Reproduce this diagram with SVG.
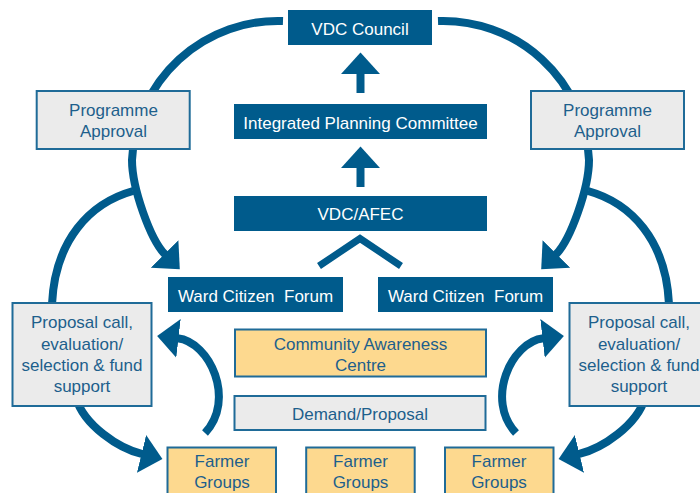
<svg xmlns="http://www.w3.org/2000/svg" width="700" height="493" viewBox="0 0 700 493">
  <style>
    text { font-family: "Liberation Sans", Arial, Helvetica, sans-serif; font-size: 17px; text-anchor: middle; }
    .dark { fill: #005b8c; }
    .grey { fill: #ebebeb; stroke: #1f6b98; stroke-width: 2; }
    .amber { fill: #fdd98f; stroke: #1f6b98; stroke-width: 2; }
    .tw { fill: #ffffff; }
    .tb { fill: #1d5f8c; }
    .conn { fill: none; stroke: #005b8c; stroke-width: 8; }
  </style>
  <defs>
    <marker id="ah" markerUnits="userSpaceOnUse" viewBox="-1 -20 22 40" markerWidth="22" markerHeight="40" refX="0" refY="0" orient="auto">
      <path d="M-1,-19.5 L20.5,0 L-1,19.5 Z" fill="#005b8c"/>
    </marker>
  </defs>

  <g id="connectors">
    <!-- vertical up arrows -->
    <path class="conn" d="M360.5,93 L360.5,73" marker-end="url(#ah)"/>
    <path class="conn" d="M360.5,187 L360.5,167" marker-end="url(#ah)"/>
    <!-- chevron from VDC/AFEC to Ward forums -->
    <polyline points="319,266 360,238.5 401,266" fill="none" stroke="#005b8c" stroke-width="7" stroke-linejoin="miter"/>
    <!-- left side -->
    <path class="conn" d="M283,21 A146,146 0 0 0 132,160 C132,188 150.3,239.7 165.3,254.7" marker-end="url(#ah)"/>
    <path class="conn" d="M133,191 C90,203 55,240 52,304"/>
    <path class="conn" d="M76,398 C84,425 118.2,448.3 142.5,454.2" marker-end="url(#ah)"/>
    <path class="conn" d="M205,433 C236,400 210,342 177.5,338.3" marker-end="url(#ah)"/>
    <!-- right side -->
    <path class="conn" d="M438,21 A146,146 0 0 1 589,160 C589,188 570.7,239.7 555.7,254.7" marker-end="url(#ah)"/>
    <path class="conn" d="M588,191 C631,203 666,240 669,304"/>
    <path class="conn" d="M645,398 C637,425 602.8,448.3 578.5,454.2" marker-end="url(#ah)"/>
    <path class="conn" d="M516,433 C485,400 511,342 543.5,338.3" marker-end="url(#ah)"/>
  </g>

  <g id="vdc-council">
    <rect class="dark" x="288" y="10" width="144" height="35"/>
    <text class="tw" x="360" y="35">VDC Council</text>
  </g>
  <g id="integrated-planning-committee">
    <rect class="dark" x="234" y="104" width="253" height="35"/>
    <text class="tw" x="360.5" y="128.5">Integrated Planning Committee</text>
  </g>
  <g id="vdc-afec">
    <rect class="dark" x="234" y="196" width="253" height="35"/>
    <text class="tw" x="360.5" y="219.5">VDC/AFEC</text>
  </g>
  <g id="ward-forum-left">
    <rect class="dark" x="168" y="277" width="175" height="35"/>
    <text class="tw" x="255.5" y="301.5" xml:space="preserve">Ward Citizen  Forum</text>
  </g>
  <g id="ward-forum-right">
    <rect class="dark" x="378" y="277" width="175" height="35"/>
    <text class="tw" x="465.5" y="301.5" xml:space="preserve">Ward Citizen  Forum</text>
  </g>
  <g id="programme-approval-left">
    <rect class="grey" x="36.7" y="91" width="153" height="58"/>
    <text class="tb" x="113.5" y="116">Programme</text>
    <text class="tb" x="113.5" y="137">Approval</text>
  </g>
  <g id="programme-approval-right">
    <rect class="grey" x="531" y="91" width="153" height="58"/>
    <text class="tb" x="607.5" y="116">Programme</text>
    <text class="tb" x="607.5" y="137">Approval</text>
  </g>
  <g id="proposal-left">
    <rect class="grey" x="12.5" y="303" width="139" height="103"/>
    <text class="tb" x="82" y="328.3">Proposal call,</text>
    <text class="tb" x="82" y="349.5">evaluation/</text>
    <text class="tb" x="82" y="370.7">selection &amp; fund</text>
    <text class="tb" x="82" y="391.9">support</text>
  </g>
  <g id="proposal-right">
    <rect class="grey" x="569.5" y="303" width="139" height="103"/>
    <text class="tb" x="639" y="328.3">Proposal call,</text>
    <text class="tb" x="639" y="349.5">evaluation/</text>
    <text class="tb" x="639" y="370.7">selection &amp; fund</text>
    <text class="tb" x="639" y="391.9">support</text>
  </g>
  <g id="community-awareness-centre">
    <rect class="amber" x="235" y="329.5" width="251" height="47"/>
    <text class="tb" x="360.5" y="349.5">Community Awareness</text>
    <text class="tb" x="360.5" y="370.5">Centre</text>
  </g>
  <g id="demand-proposal">
    <rect class="grey" x="234.5" y="396" width="251" height="34"/>
    <text class="tb" x="360" y="420">Demand/Proposal</text>
  </g>
  <g id="farmer-groups-1">
    <rect class="amber" x="167.5" y="447.5" width="108.5" height="60"/>
    <text class="tb" x="222" y="467.3">Farmer</text>
    <text class="tb" x="222" y="488.3">Groups</text>
  </g>
  <g id="farmer-groups-2">
    <rect class="amber" x="306.2" y="447.5" width="108.5" height="60"/>
    <text class="tb" x="360.5" y="467.3">Farmer</text>
    <text class="tb" x="360.5" y="488.3">Groups</text>
  </g>
  <g id="farmer-groups-3">
    <rect class="amber" x="445" y="447.5" width="108.5" height="60"/>
    <text class="tb" x="499" y="467.3">Farmer</text>
    <text class="tb" x="499" y="488.3">Groups</text>
  </g>
</svg>
